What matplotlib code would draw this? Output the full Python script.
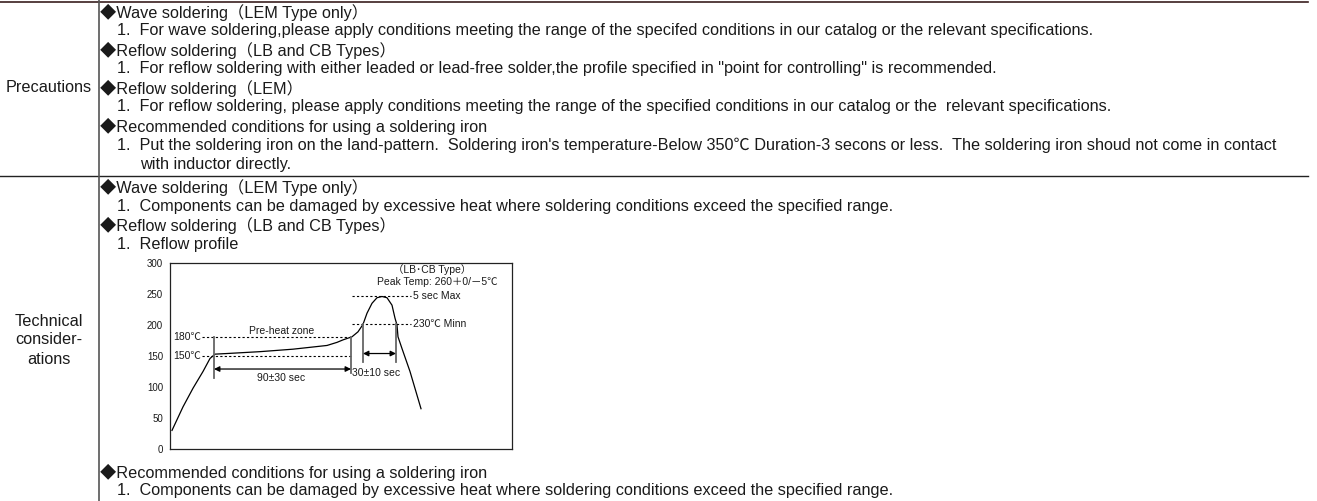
import matplotlib.pyplot as plt
from matplotlib.lines import Line2D

plt.rcParams['font.family'] = ['Liberation Sans', 'Noto Sans CJK JP', 'DejaVu Sans']

# Reflow profile (time axis in arbitrary units, temperature in degC as drawn)
profile_time = [2, 13, 23, 33, 40, 45, 57, 90, 123, 157, 167, 173, 182, 188,
                193, 197, 202, 207, 212, 217, 222, 225, 227, 228, 232, 240, 251]
profile_temp = [30, 68, 98, 125, 146, 153, 154, 157, 161, 167, 172, 176, 181, 189,
                201, 219, 235, 244, 246, 244, 232, 211, 200, 181, 162, 125, 65]
yticks = [0, 50, 100, 150, 200, 250, 300]

precaution_lines = [
    (0, "◆Wave soldering（LEM Type only）"),
    (1, "1.  For wave soldering,please apply conditions meeting the range of the specifed conditions in our catalog or the relevant specifications."),
    (0, "◆Reflow soldering（LB and CB Types）"),
    (1, "1.  For reflow soldering with either leaded or lead-free solder,the profile specified in \"point for controlling\" is recommended."),
    (0, "◆Reflow soldering（LEM）"),
    (1, "1.  For reflow soldering, please apply conditions meeting the range of the specified conditions in our catalog or the  relevant specifications."),
    (0, "◆Recommended conditions for using a soldering iron"),
    (1, "1.  Put the soldering iron on the land-pattern.  Soldering iron's temperature-Below 350℃ Duration-3 secons or less.  The soldering iron shoud not come in contact"),
    (2, "with inductor directly."),
]
technical_top = [
    (0, "◆Wave soldering（LEM Type only）"),
    (1, "1.  Components can be damaged by excessive heat where soldering conditions exceed the specified range."),
    (0, "◆Reflow soldering（LB and CB Types）"),
    (1, "1.  Reflow profile"),
]
technical_bottom = [
    (0, "◆Recommended conditions for using a soldering iron"),
    (1, "1.  Components can be damaged by excessive heat where soldering conditions exceed the specified range."),
]

W, H = 1317, 501
fig = plt.figure(figsize=(W / 100, H / 100), dpi=100)
FS = 11.7
TXT = '#1a1a1a'
indent_x = [100, 117, 140]


def put(x, y, s, **kw):
    kw.setdefault('fontsize', FS)
    kw.setdefault('va', 'center')
    kw.setdefault('color', TXT)
    fig.text(x / W, 1 - y / H, s, **kw)


def hline(y, x0, x1, color, lw):
    fig.add_artist(Line2D([x0 / W, x1 / W], [1 - y / H, 1 - y / H], color=color, lw=lw))


# table rules
hline(1.5, 0, 1308, '#3a1f1f', 1.2)
hline(175.5, 0, 1308, '#222222', 1.0)
fig.add_artist(Line2D([98.5 / W, 98.5 / W], [0, 1], color='#555555', lw=1.2))

put(49, 88, "Precautions", ha='center')
for i, (lvl, s) in enumerate(precaution_lines):
    put(indent_x[lvl], 12 + 19 * i, s)

for i, txt in enumerate(["Technical", "consider-", "ations"]):
    put(49, 321 + 19 * i, txt, ha='center')
for i, (lvl, s) in enumerate(technical_top):
    put(indent_x[lvl], 187 + 19 * i, s)
for i, (lvl, s) in enumerate(technical_bottom):
    put(indent_x[lvl], 472 + 19 * i, s)

# reflow chart
ax = fig.add_axes([170 / W, (H - 449) / H, 342 / W, 186 / H])
ax.set_xlim(0, 342)
ax.set_ylim(0, 300)
ax.set_xticks([])
ax.set_yticks(yticks)
ax.tick_params(axis='y', length=0, labelsize=7, pad=5, labelcolor=TXT)
for sp in ax.spines.values():
    sp.set_linewidth(0.9)
    sp.set_color('#222222')

ax.plot(profile_time, profile_temp, color='black', lw=0.9)

dot = dict(color='black', lw=0.8, ls=(0, (2, 2)))
ax.plot([32, 181], [180, 180], **dot)
ax.plot([32, 181], [150, 150], **dot)
ax.plot([182, 241], [246, 246], **dot)
ax.plot([182, 241], [201, 201], **dot)

gray = dict(color='#666666', lw=1.3)
ax.plot([44, 44], [115, 180], **gray)
ax.plot([181, 181], [122, 181], **gray)
ax.plot([193, 193], [140, 201], **gray)
ax.plot([226, 226], [140, 201], **gray)

arr = dict(arrowstyle='<|-|>', color='black', lw=0.9, mutation_scale=8, shrinkA=0, shrinkB=0)
ax.annotate('', xy=(44, 129), xytext=(181, 129), arrowprops=arr)
ax.annotate('', xy=(193, 154), xytext=(226, 154), arrowprops=arr)

cfs = 7.5
ax.text(31, 180, "180℃", ha='right', va='center', fontsize=cfs, color=TXT)
ax.text(31, 150, "150℃", ha='right', va='center', fontsize=cfs, color=TXT)
ax.text(243, 246, "5 sec Max", ha='left', va='center', fontsize=cfs, color=TXT)
ax.text(243, 201, "230℃ Minn", ha='left', va='center', fontsize=cfs, color=TXT)
ax.text(111.5, 191, "Pre-heat zone", ha='center', va='center', fontsize=cfs, color=TXT)
ax.text(111.5, 115, "90±30 sec", ha='center', va='center', fontsize=cfs, color=TXT)
ax.text(182, 122, "30±10 sec", ha='left', va='center', fontsize=cfs, color=TXT)
ax.text(262, 290, "（LB･CB Type）", ha='center', va='center', fontsize=cfs, color=TXT)
ax.text(267.5, 269, "Peak Temp: 260＋0/－5℃", ha='center', va='center', fontsize=cfs, color=TXT)

fig.savefig('out.png', dpi=100)
